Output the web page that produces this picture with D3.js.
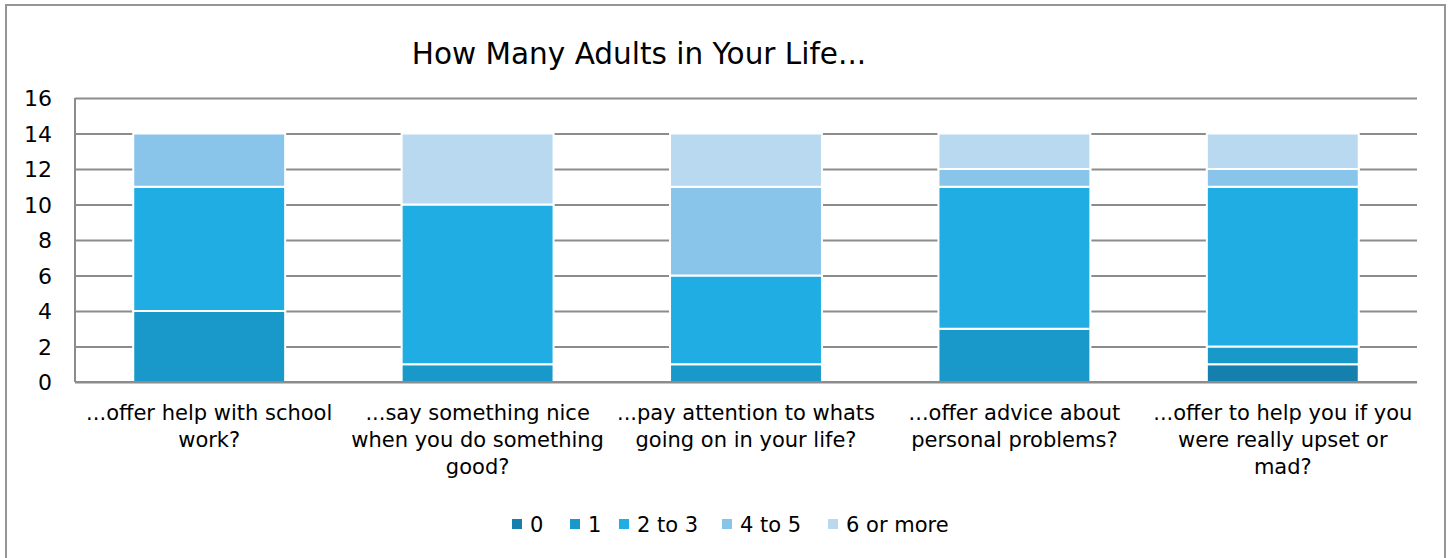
<!DOCTYPE html>
<html><head><meta charset="utf-8">
<script src="https://cdn.jsdelivr.net/npm/d3@7"></script>
<style>body{margin:0;background:#fff;} text{font-family:"Century Gothic","DejaVu Sans","Noto Sans",sans-serif;fill:#000;}</style>
</head><body><svg id="c" width="1449" height="558"></svg>
<script>
const title = "How Many Adults in Your Life...";
const categories = [
  "...offer help with school\nwork?",
  "...say something nice\nwhen you do something\ngood?",
  "...pay attention to whats\ngoing on in your life?",
  "...offer advice about\npersonal problems?",
  "...offer to help you if you\nwere really upset or\nmad?"
];
const seriesNames = ["0", "1", "2 to 3", "4 to 5", "6 or more"];
const s0 = [0, 0, 0, 0, 1];
const s1 = [4, 1, 1, 3, 1];
const s2to3 = [7, 9, 5, 8, 9];
const s4to5 = [3, 0, 5, 1, 1];
const s6plus = [0, 4, 3, 2, 2];
const yTicks = [0, 2, 4, 6, 8, 10, 12, 14, 16];
const colors = ["#1580AD", "#1899CA", "#1FADE4", "#89C4EA", "#B8D9F0"];

const seriesValues = [s0, s1, s2to3, s4to5, s6plus];
const table = categories.map((c, i) => {
  const row = {cat: c};
  seriesNames.forEach((s, j) => row[s] = seriesValues[j][i]);
  return row;
});

const svg = d3.select("#c");
svg.append("rect").attr("x", 6).attr("y", 5).attr("width", 1439).attr("height", 570)
  .attr("fill", "#fff").attr("stroke", "#969696").attr("stroke-width", 2);

const m = {left: 75, right: 1417, top: 98, bottom: 382};
const x = d3.scaleBand().domain(categories).range([m.left, m.right]).paddingInner(0.434).paddingOuter(0.217);
const y = d3.scaleLinear().domain([0, 16]).range([m.bottom, m.top]);

svg.append("text").attr("x", 639).attr("y", 64).attr("text-anchor", "middle")
  .style("font-size", "29.5px").text(title);

// gridlines
const yAxis = d3.axisLeft(y).tickValues(yTicks).tickSize(-(m.right - m.left)).tickPadding(23);
const gy = svg.append("g").attr("transform", `translate(${m.left},0)`).call(yAxis);
gy.select(".domain").remove();
gy.selectAll(".tick line").attr("stroke", "#8c8c8c").attr("stroke-width", 2);
gy.selectAll(".tick text").style("font-size", "22px").attr("fill", "#000").attr("dy", "0.36em");
svg.append("line").attr("x1", m.left).attr("x2", m.left).attr("y1", m.top).attr("y2", m.bottom)
  .attr("stroke", "#8c8c8c").attr("stroke-width", 2);

const stack = d3.stack().keys(seriesNames)(table);
svg.append("g").selectAll("g").data(stack).join("g").attr("fill", (d, i) => colors[i])
  .selectAll("rect").data(d => d.filter(v => v[1] - v[0] > 0)).join("rect")
  .attr("x", d => x(d.data.cat)).attr("width", x.bandwidth())
  .attr("y", d => y(d[1])).attr("height", d => y(d[0]) - y(d[1]))
  .attr("stroke", "#fff").attr("stroke-width", 2);

// bottom axis line
svg.append("line").attr("x1", m.left).attr("x2", m.right).attr("y1", m.bottom).attr("y2", m.bottom)
  .attr("stroke", "#8c8c8c").attr("stroke-width", 2);

const xAxis = d3.axisBottom(x).tickSize(0).tickFormat("");
const gx = svg.append("g").attr("transform", `translate(0,${m.bottom})`).call(xAxis);
gx.select(".domain").remove();
gx.selectAll(".tick").each(function(c) {
  const t = d3.select(this).append("text").attr("text-anchor", "middle").attr("y", 38).style("font-size", "21px");
  c.split("\n").forEach((ln, i) => t.append("tspan").attr("x", 0).attr("dy", i === 0 ? 0 : 27).text(ln));
});

// legend
const legendX = [512, 570, 619, 722, 828];
const lg = svg.append("g");
seriesNames.forEach((s, i) => {
  lg.append("rect").attr("x", legendX[i]).attr("y", 519).attr("width", 10).attr("height", 10).attr("fill", colors[i]);
  lg.append("text").attr("x", legendX[i] + 18).attr("y", 532).style("font-size", "21px").text(s);
});
</script></body></html>
